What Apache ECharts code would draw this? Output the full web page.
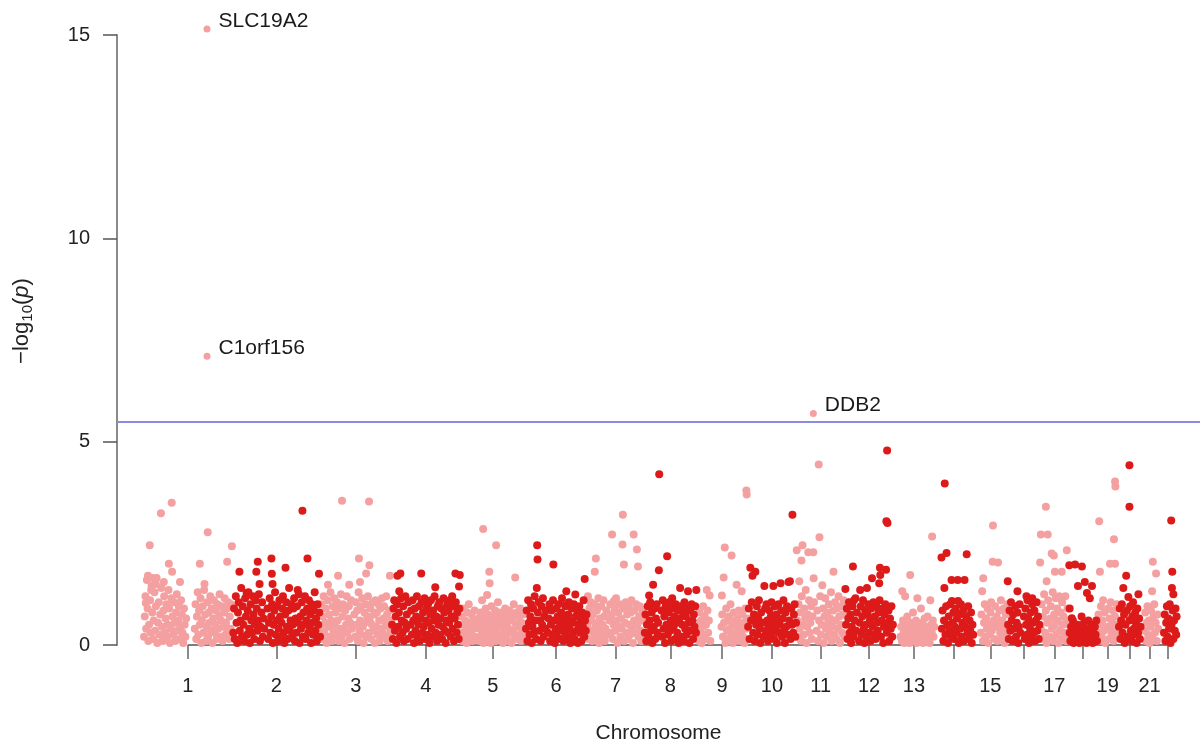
<!DOCTYPE html>
<html><head><meta charset="utf-8">
<script src="https://cdn.jsdelivr.net/npm/echarts@6/dist/echarts.min.js"></script>
<style>html,body{margin:0;padding:0;background:#fff}#c{width:1202px;height:749px}</style>
</head><body><div id="c"></div>
<script>
const chrNames = ['1','2','3','4','5','6','7','8','9','10','11','12','13','14','15','16','17','18','19','20','21','22'];
const chrLen = [249,243,198,191,181,171,159,146,141,136,135,134,115,107,95,90,81,78,59,63,48,51];
const chrLabelShown = ['1','2','3','4','5','6','7','8','9','10','11','12','13','15','17','19','21'];
const yTicks = [0,5,10,15];
const threshold = 5.5;
const hitGene = ['SLC19A2','C1orf156','DDB2'];
const hitChr = [1,1,11];
const hitPos = [178,178,47];
const hitVal = [15.15,7.1,5.69];

const chr1 = [[19,2.45],[50,3.24],[80,3.5],[72,2.0],[81,1.8],[103,1.55],[8,1.03],[180,2.77],[158,2.0],[170,1.35],[234,2.05],[247,2.43],[14,1.7],[27,1.65],[36,1.5],[58,1.55],[23,1.35],
[3,.2],[5,.7],[7,1.2],[9,.4],[11,1.6],[13,.9],[15,.1],[17,.5],[20,1.1],[22,.3],[24,1.45],[26,.8],[28,.15],[30,.6],[32,1.3],[34,.35],[36,.95],[38,1.65],[40,.05],[42,.55],[44,1.05],[46,.25],[48,.75],[51,1.4],[53,.45],[55,.1],[57,.85],[59,1.2],[61,.3],[63,.65],[65,1.0],[67,.2],[69,.5],[71,1.35],[73,.9],[75,.05],[77,.4],[79,1.15],[82,.7],[84,.25],[86,1.05],[88,.55],[90,.1],[92,.8],[94,1.25],[96,.35],[98,.6],[100,.95],[102,.15],[104,.45],[106,1.1],[108,.75],[110,.3],[112,.05],[114,.9],[116,.5],[118,.2],[120,.65],
[144,.4],[146,1.0],[148,.15],[150,.7],[152,1.3],[154,.25],[156,.85],[158,.5],[160,1.15],[162,.05],[164,.6],[166,.95],[168,.3],[171,1.5],[173,.75],[175,.1],[177,.45],[179,1.05],[181,.2],[183,.8],[185,.55],[187,1.2],[189,.35],[191,.9],[193,.05],[195,.65],[197,1.1],[199,.3],[201,.5],[203,.85],[205,.15],[207,1.0],[209,.4],[211,.7],[213,1.25],[215,.2],[217,.6],[219,.95],[221,.1],[223,.45],[225,.8],[227,1.15],[229,.25],[231,.55],[233,.9],[235,.35],[237,1.05],[239,.15],[241,.7],[243,.4],[245,1.0],[247,.2]];
const chr2 = [[194,3.3],[208,2.13],[108,2.13],[70,2.05],[19,1.8],[66,1.8],[109,1.75],[147,1.9],[111,1.5],[240,1.75],[75,1.5],[39,1.28],[181,1.35],
[2,.3],[4,.9],[6,.15],[9,1.2],[11,.55],[13,.05],[15,.8],[17,1.05],[20,.35],[22,.6],[24,1.4],[26,.2],[28,.95],[30,.5],[32,.1],[35,1.15],[37,.7],[40,.25],[42,.85],[44,1.3],[46,.4],[48,.05],[50,1.0],[52,.6],[54,.3],[56,1.2],[58,.75],[60,.15],[62,.5],[64,1.1],[67,.9],[69,.35],[71,.6],[73,1.25],[76,.1],[78,.45],[80,.8],[82,1.05],[84,.2],[86,.65],[88,.4],[97,.9],[99,.15],[101,.55],[103,1.15],[105,.3],[107,.7],[110,1.0],[112,.05],[114,.5],[116,.85],[118,1.3],[120,.25],[122,.6],[124,.95],[126,.1],[128,.4],[130,1.1],[132,.7],[134,.2],[136,.55],[138,.9],[140,1.2],[142,.3],[144,.05],[146,.75],[149,1.05],[151,.45],[153,.15],[155,.85],[157,1.4],[159,.35],[161,.6],[163,1.0],[165,.2],[167,.5],[169,.9],[171,1.15],[173,.1],[175,.65],[177,.3],[179,.95],[182,.55],[184,1.25],[186,.05],[188,.7],[190,.4],[192,1.05],[195,.2],[197,.8],[199,.5],[201,1.2],[203,.15],[205,.6],[207,.9],[210,.3],[212,1.1],[214,.45],[216,.75],[218,.05],[220,1.0],[222,.55],[224,.25],[226,.85],[228,1.3],[230,.35],[232,.65],[234,.1],[236,1.0],[238,.5],[241,.8],[243,.2]];
const chr3 = [[61,3.55],[136,3.53],[108,2.13],[137,1.96],[50,1.7],[81,1.48],[111,1.55],[128,1.76],[22,1.48],[194,1.7],
[2,.4],[4,1.0],[6,.15],[8,.7],[10,1.2],[12,.3],[14,.55],[16,.9],[18,.05],[21,1.1],[23,.45],[25,.75],[27,.2],[29,1.3],[31,.6],[33,.1],[35,.95],[37,.35],[39,1.15],[41,.5],[43,.8],[45,.25],[47,1.05],[49,.6],[52,.1],[54,.9],[56,.4],[58,1.25],[60,.2],[62,.7],[64,1.0],[66,.35],[68,.05],[70,.85],[72,.5],[74,1.2],[76,.3],[78,.65],[80,.95],[82,.15],[84,.55],[86,1.1],[88,.4],[95,.75],[97,.2],[99,1.05],[101,.5],[103,.85],[105,.1],[107,1.3],[109,.35],[111,.6],[113,.95],[115,.25],[117,1.15],[119,.45],[121,.05],[123,.8],[125,.55],[127,1.0],[129,.2],[131,.7],[133,1.2],[135,.3],[138,.6],[140,.9],[142,.15],[144,.5],[146,1.05],[148,.35],[150,.75],[152,.05],[154,1.1],[156,.45],[158,.8],[160,.25],[162,1.0],[164,.6],[166,.1],[168,.9],[170,.4],[172,1.15],[174,.3],[176,.65],[178,.95],[180,.2],[182,.5],[184,1.2],[186,.75],[188,.1],[190,.45],[192,.85],[195,.3],[197,.6]];
const chr4 = [[17,1.7],[25,1.76],[83,1.76],[22,1.32],[122,1.42],[178,1.76],[190,1.72],[188,1.44],[169,1.2],
[2,.5],[4,.15],[6,.9],[8,1.1],[10,.35],[12,.7],[14,.05],[16,1.0],[19,.45],[21,.8],[24,.2],[27,1.15],[29,.6],[31,.3],[33,.95],[35,.1],[37,.55],[39,1.2],[41,.4],[43,.75],[45,.15],[47,1.05],[53,.5],[55,.85],[57,.25],[59,1.1],[61,.6],[63,.05],[65,.9],[67,.35],[69,.7],[71,1.2],[73,.2],[75,.5],[77,.95],[79,.1],[81,.65],[84,1.05],[86,.3],[88,.8],[90,.45],[92,1.15],[94,.15],[96,.6],[98,.9],[100,.25],[102,1.0],[104,.55],[106,.05],[108,.75],[110,1.1],[112,.4],[114,.2],[116,.85],[118,.6],[120,1.2],[123,.3],[125,.7],[127,.1],[129,.95],[131,.5],[133,1.05],[135,.25],[137,.65],[139,.9],[141,.15],[143,.45],[145,1.15],[147,.8],[149,.35],[151,.05],[153,.6],[155,1.0],[157,.3],[159,.85],[161,.55],[163,1.1],[165,.2],[167,.7],[170,.4],[172,.95],[174,.1],[176,.65],[179,1.05],[181,.3],[183,.8],[185,.5],[187,.15],[189,.9]];
const chr5 = [[64,2.85],[100,2.45],[81,1.8],[82,1.52],[153,1.66],[75,1.23],
[2,.3],[4,.7],[6,.1],[8,.5],[10,.9],[12,.2],[14,.6],[16,.35],[18,.05],[20,.8],[22,.45],[24,1.0],[26,.15],[28,.55],[30,.3],[32,.75],[34,.1],[36,.6],[38,.4],[40,.85],[42,.2],[44,.5],[51,.65],[53,.1],[55,.4],[57,.8],[59,.25],[61,1.1],[63,.55],[65,.05],[67,.7],[69,.35],[71,.9],[73,.15],[76,.5],[78,.75],[80,.3],[83,.6],[85,.05],[87,.95],[89,.4],[91,.2],[93,.7],[95,.5],[97,.85],[99,.1],[101,.35],[103,.65],[105,1.05],[107,.25],[109,.55],[111,.8],[113,.15],[115,.45],[117,.7],[119,.05],[121,.6],[123,.3],[125,.9],[127,.2],[129,.5],[131,.75],[133,.1],[135,.4],[137,.85],[139,.3],[141,.6],[143,.05],[145,.7],[147,.35],[149,1.0],[151,.2],[155,.5],[157,.8],[159,.15],[161,.45],[163,.65],[165,.25],[167,.9],[169,.1],[171,.55],[173,.35],[175,.75],[177,.2],[179,.5]];
const chr6 = [[33,2.45],[34,2.1],[78,1.98],[32,1.4],[114,1.32],[139,1.24],[111,.98],[165,1.62],
[2,.4],[4,.85],[6,.1],[8,1.1],[10,.55],[12,.25],[14,.7],[16,1.0],[18,.05],[20,.45],[22,.9],[24,.3],[26,1.2],[28,.6],[30,.15],[35,.8],[37,1.05],[39,.35],[41,.6],[43,.1],[45,.95],[47,.5],[49,1.15],[51,.2],[53,.7],[55,.4],[57,.85],[63,.3],[65,.65],[67,1.0],[69,.1],[71,.5],[73,.85],[75,.25],[77,1.1],[80,.6],[82,.05],[84,.4],[86,.9],[88,.2],[90,.7],[92,1.0],[94,.35],[96,.55],[98,.15],[100,.8],[102,1.15],[104,.45],[106,.1],[108,.65],[110,.3],[112,.95],[115,.5],[117,.2],[119,.75],[121,1.05],[123,.4],[125,.05],[127,.6],[129,.9],[131,.25],[133,.55],[135,1.0],[137,.15],[140,.7],[142,.35],[144,.85],[146,.05],[148,.5],[150,.95],[152,.3],[154,.65],[156,.1],[158,.8],[160,.45],[162,1.1],[164,.2],[166,.6],[168,.35],[170,.75]];
const chr7 = [[25,2.13],[22,1.8],[70,2.72],[100,3.2],[130,2.72],[99,2.47],[139,2.35],[103,1.98],[142,1.93],[75,1.08],[3,1.2],
[2,.5],[5,.15],[7,.9],[9,.35],[11,1.05],[13,.6],[15,.1],[17,.75],[19,.3],[21,1.0],[24,.45],[26,.2],[28,.85],[30,.55],[32,1.15],[34,.05],[36,.65],[38,.35],[40,.95],[42,.2],[44,.5],[46,1.1],[48,.7],[50,.1],[52,.4],[54,.85],[56,.25],[63,.6],[65,1.0],[67,.3],[69,.75],[72,.15],[74,.5],[77,.9],[79,.35],[81,1.15],[83,.6],[85,.05],[87,.8],[89,.45],[91,1.0],[93,.2],[95,.65],[97,.4],[101,.9],[104,.1],[106,.55],[108,1.05],[110,.3],[112,.75],[114,.15],[116,.95],[118,.5],[120,.25],[122,.8],[124,1.1],[126,.4],[128,.05],[131,.6],[133,.85],[135,.3],[137,1.0],[140,.5],[143,.2],[145,.7],[147,.95],[149,.35],[151,.1],[153,.6],[155,.85],[157,.25]];
const chr8 = [[42,4.2],[64,2.18],[41,1.84],[25,1.48],[14,1.22],[100,1.4],[122,1.32],[145,1.35],[78,1.15],
[2,.3],[4,.75],[6,.1],[8,.5],[10,.95],[12,.2],[15,.6],[17,1.05],[19,.35],[21,.8],[23,.05],[27,.45],[29,.9],[31,.15],[33,.65],[35,1.0],[37,.3],[39,.55],[48,.85],[50,.2],[52,1.1],[54,.4],[56,.7],[58,.05],[60,.95],[62,.5],[66,.25],[68,.8],[70,1.05],[72,.35],[74,.6],[76,.1],[80,.9],[82,.45],[84,.7],[86,.15],[88,1.0],[90,.55],[92,.3],[94,.85],[96,.05],[98,.65],[102,.95],[104,.2],[106,.5],[108,.8],[110,.1],[112,1.05],[114,.4],[116,.7],[118,.25],[120,.9],[124,.55],[126,.05],[128,.85],[130,.35],[132,1.0],[134,.6],[136,.15],[138,.75],[140,.45],[142,.95],[144,.3]];
const chr9 = [[138,3.8],[139,3.7],[78,2.4],[97,2.2],[75,1.66],[28,1.35],[36,1.22],[70,1.22],[111,1.48],[125,1.32],
[2,.2],[4,.55],[6,.1],[8,.8],[10,.35],[12,.6],[14,.05],[16,.45],[18,.95],[20,.25],[22,.7],[24,.15],[26,.5],[30,.85],[32,.3],[34,.6],[38,.1],[69,.45],[71,.75],[73,.2],[76,.55],[80,.05],[82,.9],[84,.35],[86,.6],[88,.15],[90,.7],[92,.4],[94,1.0],[96,.25],[99,.5],[101,.05],[103,.8],[105,.3],[107,.6],[109,.15],[113,.65],[115,.4],[117,.85],[119,.1],[121,.5],[123,.3],[127,.75],[129,.2],[131,.55],[133,.05],[135,.9],[137,.4],[140,.65]];
const chr10 = [[125,3.2],[8,1.9],[22,1.8],[14,1.7],[47,1.45],[72,1.45],[92,1.52],[114,1.55],[118,1.57],
[2,.45],[4,.9],[6,.15],[10,.6],[12,1.05],[16,.3],[18,.75],[20,.1],[24,.5],[26,.95],[28,.25],[30,.65],[32,1.1],[34,.4],[36,.05],[38,.8],[43,.55],[45,.2],[49,.9],[51,.35],[53,1.0],[55,.6],[57,.1],[59,.45],[61,.85],[63,.25],[65,.7],[67,1.05],[69,.3],[71,.55],[74,.15],[76,.95],[78,.4],[80,.75],[82,.05],[84,.6],[86,1.0],[88,.3],[90,.5],[94,.85],[96,.2],[98,.65],[100,1.1],[102,.35],[104,.05],[106,.8],[108,.45],[110,.95],[112,.25],[116,.6],[120,.15],[122,.9],[124,.5],[127,.3],[129,.75],[131,1.0],[133,.2],[135,.55]];
const chr11 = [[62,4.44],[64,2.65],[1,2.33],[17,2.45],[14,2.08],[33,2.28],[47,2.28],[8,1.57],[48,1.64],[72,1.47],[103,1.8],
[2,.6],[4,.2],[6,1.0],[9,.4],[11,.8],[13,.1],[15,1.2],[18,.5],[20,.25],[22,.9],[24,.65],[26,1.35],[28,.05],[30,.45],[32,.75],[35,1.1],[37,.3],[39,.55],[41,.95],[43,.15],[45,.7],[49,1.05],[56,.35],[58,.85],[60,.1],[63,.6],[66,1.2],[68,.25],[70,.5],[74,.9],[76,.05],[78,.7],[80,1.15],[82,.4],[84,.2],[86,.8],[88,.55],[90,1.0],[92,.3],[94,.65],[96,1.3],[98,.1],[100,.45],[102,.85],[105,.25],[107,1.05],[109,.6],[111,.15],[113,.9],[115,.4],[117,1.2],[119,.7],[121,.05],[123,.5],[125,.95],[127,.3],[129,.75],[131,1.1],[133,.2]];
const chr12 = [[117,4.78],[115,3.04],[118,3.0],[22,1.93],[97,1.9],[114,1.85],[75,1.64],[98,1.72],[95,1.52],[1,1.38],[42,1.35],[61,1.4],[25,1.1],
[3,.5],[5,.9],[7,.15],[9,.65],[11,1.05],[13,.3],[15,.75],[17,.05],[19,.45],[21,.95],[24,.2],[27,.6],[29,1.15],[31,.35],[33,.8],[39,.1],[41,.55],[44,.95],[46,.25],[48,.7],[50,1.1],[52,.4],[54,.05],[56,.85],[58,.5],[60,.2],[63,.75],[65,1.0],[67,.3],[69,.6],[71,.1],[73,.9],[77,.45],[79,1.05],[81,.25],[83,.7],[85,.15],[87,.95],[89,.55],[91,.35],[93,.8],[96,1.1],[100,.2],[102,.6],[104,.9],[106,.05],[108,.45],[110,.75],[112,1.0],[116,.3],[119,.55],[121,.85],[123,.1],[125,.65],[127,.4],[129,.95],[131,.2],[133,.5]];
const chr13 = [[108,2.67],[47,1.72],[25,1.32],[33,1.2],[67,1.15],[103,1.1],
[20,.2],[22,.45],[24,.1],[27,.6],[29,.3],[31,.05],[35,.5],[37,.25],[39,.7],[41,.15],[43,.4],[45,.05],[49,.55],[51,.2],[53,.35],[55,.8],[57,.1],[59,.45],[61,.25],[63,.6],[65,.05],[69,.3],[71,.5],[73,.15],[75,.4],[77,.9],[79,.2],[81,.55],[83,.05],[85,.35],[87,.65],[89,.1],[91,.45],[93,.25],[95,.7],[97,.15],[99,.4],[101,.05],[105,.5],[107,.3],[110,.6],[112,.2],[114,.45]];
const chr14 = [[28,3.97],[19,2.15],[33,2.26],[89,2.23],[27,1.4],[47,1.6],[64,1.6],[83,1.6],[48,1.08],[65,1.08],
[20,.4],[22,.85],[24,.1],[26,.6],[30,.25],[32,.95],[35,.5],[37,.05],[39,.7],[41,.35],[43,1.0],[45,.2],[50,.55],[52,.8],[54,.15],[56,.45],[58,.9],[60,.3],[62,.65],[67,.05],[69,.75],[71,.4],[73,1.0],[75,.2],[77,.55],[79,.85],[81,.1],[85,.45],[87,.7],[91,.3],[93,.95],[95,.15],[97,.6],[99,.35],[101,.8],[103,.05],[105,.5],[107,.25]];
const chr15 = [[55,2.94],[54,2.05],[69,2.03],[28,1.64],[25,1.32],
[21,.3],[23,.75],[27,.1],[30,.55],[32,1.0],[34,.2],[36,.65],[38,.4],[40,.9],[42,.05],[44,.5],[46,.25],[48,.8],[50,1.05],[52,.35],[57,.6],[59,.15],[61,.95],[63,.45],[65,.7],[67,.1],[71,.55],[73,.85],[75,.3],[77,1.1],[79,.2],[81,.6],[83,.4],[85,.9],[87,.05],[89,.5],[91,.75],[93,.25],[95,1.0]];
const chr16 = [[1,1.57],[28,1.32],[53,1.2],[69,1.15],
[2,.5],[4,.15],[6,.85],[8,.35],[10,1.05],[12,.6],[14,.1],[16,.75],[18,.4],[22,.95],[24,.2],[26,.55],[28,.8],[30,.05],[32,.45],[34,1.0],[36,.3],[46,.7],[48,.15],[50,.9],[52,.5],[54,.25],[56,1.1],[58,.65],[60,.05],[63,.4],[65,.8],[67,.2],[69,1.0],[71,.55],[73,.3],[75,.85],[77,.1],[79,.6],[81,1.05],[83,.35],[85,.7],[87,.15],[89,.5]];
const chr17 = [[17,3.4],[3,2.72],[22,2.72],[39,2.2],[33,2.25],[75,2.33],[1,2.03],[42,1.8],[61,1.8],[19,1.57],
[3,.4],[5,1.0],[7,.15],[9,.7],[12,1.25],[15,.3],[17,.85],[19,.05],[21,.55],[23,1.1],[27,.2],[29,.65],[31,.95],[34,.4],[36,1.3],[38,.1],[40,.75],[42,.5],[44,1.15],[46,.25],[48,.9],[50,.6],[52,.05],[54,1.2],[56,.35],[58,.8],[60,.15],[62,1.05],[64,.5],[66,.7],[69,.3],[71,1.2],[73,.1],[75,.6],[77,.9],[79,.25],[81,.5]];
const chr18 = [[1,1.96],[17,1.98],[36,1.93],[25,1.45],[44,1.55],[64,1.45],[50,1.28],[58,1.15],[2,.9],[8,.66],[39,.5],
[2,.3],[4,.1],[6,.45],[9,.2],[11,.6],[13,.05],[20,.35],[22,.15],[24,.5],[27,.25],[29,.05],[31,.4],[33,.2],[35,.7],[38,.1],[40,.3],[42,.55],[45,.15],[47,.4],[49,.05],[52,.25],[54,.6],[56,.1],[59,.35],[61,.2],[63,.5],[66,.05],[68,.3],[70,.15],[72,.45],[74,.25],[76,.6],[78,.1]];
const chr19 = [[6,3.04],[50,4.02],[51,3.9],[47,2.6],[36,2.0],[50,2.0],[8,1.8],
[2,.3],[4,.75],[6,.1],[9,.5],[11,.95],[13,.2],[15,.6],[17,1.1],[19,.35],[21,.8],[23,.05],[29,.45],[31,.9],[33,.15],[35,.65],[38,1.05],[40,.3],[42,.55],[44,.85],[46,.1],[48,.4],[50,.7],[53,.2],[55,1.0],[57,.5],[59,.25]];
const chr20 = [[31,4.42],[31,3.4],[22,1.7],[14,1.4],[28,1.18],[56,1.25],
[2,.45],[4,.9],[6,.15],[8,.6],[10,1.0],[12,.3],[16,.75],[18,.05],[20,.5],[24,.85],[26,.2],[31,.6],[33,.95],[35,.35],[37,.1],[39,.7],[41,1.05],[43,.4],[45,.25],[47,.8],[49,.55],[51,.05],[53,.9],[55,.3],[58,.65],[60,.15],[62,.45]];
const chr21 = [[33,2.05],[42,1.76],[31,1.32],
[10,.35],[12,.8],[14,.1],[16,.55],[18,.95],[20,.25],[22,.6],[24,.05],[26,.45],[28,.85],[30,.2],[35,.7],[37,1.0],[39,.3],[41,.55],[44,.1],[46,.75],[48,.4]];
const chr22 = [[36,3.06],[39,1.8],[38,1.4],[42,1.25],
[16,.3],[18,.75],[20,.1],[22,.55],[24,.95],[26,.2],[28,.65],[30,.4],[32,1.0],[34,.05],[37,.5],[40,.85],[42,.15],[44,.6],[46,.35],[48,.9],[50,.25],[51,.7]];

const chrData = [chr1,chr2,chr3,chr4,chr5,chr6,chr7,chr8,chr9,chr10,chr11,chr12,chr13,chr14,chr15,chr16,chr17,chr18,chr19,chr20,chr21,chr22];

const offsets = []; let acc = 0;
chrLen.forEach(l => { offsets.push(acc); acc += l; });
const mids = chrLen.map((l, i) => offsets[i] + l / 2);
const pinkPts = [], redPts = [];
chrData.forEach((arr, i) => {
  const dest = i % 2 === 0 ? pinkPts : redPts;
  arr.forEach(([p, v]) => dest.push([offsets[i] + p, v]));
});
const hitPts = hitGene.map((g, i) => [offsets[hitChr[i] - 1] + hitPos[i], hitVal[i]]);
const labelMids = mids.filter((m, i) => chrLabelShown.indexOf(chrNames[i]) >= 0);

const FONT = 'Liberation Sans, Arial, Helvetica, sans-serif';
const PINK = '#f5a0a0', RED = '#dd1a1a';

const chart = echarts.init(document.getElementById('c'), null, { renderer: 'canvas' });
chart.setOption({
  animation: false,
  backgroundColor: '#ffffff',
  grid: { left: 117, right: 2, top: 35, bottom: 102, containLabel: false },
  xAxis: {
    type: 'value', min: -72, max: 2936,
    name: 'Chromosome', nameLocation: 'middle', nameGap: 78,
    nameTextStyle: { fontFamily: FONT, fontSize: 21, color: '#222' },
    axisLine: { show: false, onZero: false },
    splitLine: { show: false },
    axisTick: { show: true, customValues: mids, length: 14, lineStyle: { color: '#666', width: 1.5 } },
    axisLabel: {
      customValues: labelMids, margin: 31, fontFamily: FONT, fontSize: 20, color: '#222',
      formatter: v => { const i = mids.findIndex(m => Math.abs(m - v) < 1e-6); return i >= 0 ? chrNames[i] : ''; }
    }
  },
  yAxis: {
    type: 'value', min: yTicks[0], max: yTicks[yTicks.length - 1], interval: 5,
    name: '{a|−log}{b|10}{a|(}{c|p}{a|)}', nameLocation: 'middle', nameGap: 82, nameRotate: 90,
    nameTextStyle: {
      padding: [0, 0, 0, 38],
      rich: {
        a: { fontFamily: FONT, fontSize: 22, color: '#222', lineHeight: 26 },
        b: { fontFamily: FONT, fontSize: 15, color: '#222', lineHeight: 15, verticalAlign: 'bottom' },
        c: { fontFamily: FONT, fontSize: 22, color: '#222', fontStyle: 'italic', lineHeight: 26 }
      }
    },
    axisLine: { show: true, onZero: false, lineStyle: { color: '#8a8a8a', width: 2 } },
    axisTick: { show: true, length: 14, lineStyle: { color: '#555', width: 1.5 } },
    axisLabel: { margin: 27, fontFamily: FONT, fontSize: 20, color: '#222' },
    splitLine: { show: false }
  },
  series: [
    {
      type: 'line', data: [[mids[0], 0], [mids[mids.length - 1], 0]], symbol: 'none', silent: true,
      lineStyle: { color: '#555', width: 1.5 }, z: 1, clip: false
    },
    {
      type: 'scatter', data: pinkPts, symbolSize: 8, itemStyle: { color: PINK, opacity: 1 }, z: 2, clip: false, silent: true
    },
    {
      type: 'scatter', data: redPts, symbolSize: 8, itemStyle: { color: RED, opacity: 1 }, z: 3, clip: false, silent: true,
      markLine: {
        silent: true, symbol: 'none', label: { show: false },
        lineStyle: { color: '#8b8be0', width: 2, type: 'solid' },
        data: [{ yAxis: threshold }]
      }
    },
    {
      type: 'scatter', data: hitPts, symbolSize: 7, itemStyle: { color: PINK, opacity: 1 }, z: 4, clip: false, silent: true,
      label: {
        show: true, position: 'right', distance: 8, offset: [0, -8],
        fontFamily: FONT, fontSize: 21, color: '#1a1a1a',
        formatter: p => hitGene[p.dataIndex]
      }
    }
  ]
});
</script>
</body></html>
